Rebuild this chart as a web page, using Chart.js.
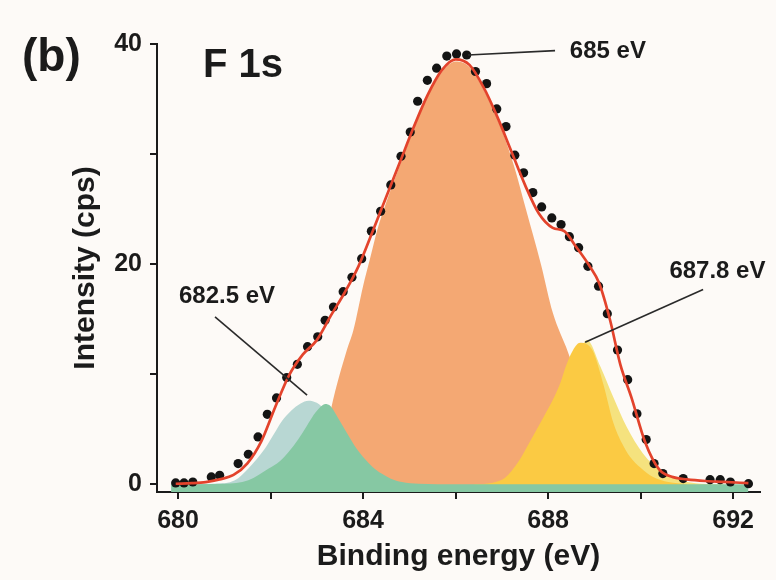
<!DOCTYPE html>
<html>
<head>
<meta charset="utf-8">
<title>F 1s XPS spectrum</title>
<script src="https://cdn.jsdelivr.net/npm/chart.js@4.4.1/dist/chart.umd.min.js"></script>
<style>
  html, body { margin: 0; padding: 0; background: #fdfaf7; }
  #wrap { width: 776px; height: 580px; }
  canvas { display: block; }
</style>
</head>
<body>
<div id="wrap"><canvas id="xps" width="776" height="580"></canvas></div>
<script>
// Measured F 1s spectrum (binding energy in eV, intensity in cps)
const dotEnergy = [679.95, 680.13, 680.32, 680.72, 680.90, 681.30, 681.52, 681.73, 681.93, 682.13,
  682.35, 682.58, 682.80, 683.02, 683.18, 683.36, 683.57, 683.76, 683.97, 684.18,
  684.38, 684.60, 684.82, 685.02, 685.18, 685.39, 685.59, 685.81, 686.02, 686.24,
  686.43, 686.67, 686.89, 687.09, 687.28, 687.47, 687.67, 687.86, 688.08, 688.28,
  688.46, 688.66, 688.86, 689.09, 689.28, 689.50, 689.72, 689.92, 690.12, 690.29,
  690.48, 690.92, 691.50, 691.72, 691.94, 692.33];
const dotCounts = [0.12, 0.12, 0.21, 0.67, 0.82, 1.88, 2.73, 4.3, 6.36, 7.85,
  9.7, 10.9, 12.5, 13.4, 14.9, 16.1, 17.5, 18.8, 20.5, 23.0,
  24.8, 27.2, 29.8, 32.0, 34.8, 36.7, 37.8, 38.9, 39.1, 39.0,
  37.5, 36.4, 34.1, 32.5, 29.9, 28.3, 26.5, 25.2, 24.2, 23.6,
  22.5, 21.5, 19.8, 18.0, 15.5, 12.2, 9.5, 6.4, 4.06, 1.88,
  0.97, 0.52, 0.42, 0.42, 0.21, 0.06];

// Envelope of the peak fit
const fitEnergy = [679.95, 680.3, 680.6, 680.9, 681.2, 681.5, 681.8, 682.1, 682.4, 682.7,
  683.0, 683.3, 683.6, 683.9, 684.2, 684.5, 684.8, 685.1, 685.4, 685.7,
  686.0, 686.3, 686.6, 686.9, 687.2, 687.5, 687.8, 688.1, 688.35, 688.6,
  688.9, 689.1, 689.34, 689.56, 689.8, 690.1, 690.4, 690.7, 691.0, 691.4,
  691.8, 692.33];
const fitCounts = [0.05, 0.1, 0.2, 0.45, 0.85, 1.9, 3.9, 7.0, 9.9, 11.8,
  13.1, 15.3, 17.4, 19.8, 22.9, 26.1, 29.3, 32.5, 35.4, 37.6,
  38.6, 38.1, 36.1, 33.4, 30.3, 27.2, 24.6, 23.3, 23.0, 21.6,
  19.8, 18.3, 14.9, 10.9, 7.9, 3.8, 1.35, 0.65, 0.45, 0.3,
  0.22, 0.1];

// Fitted components
const mainEnergy = [681.6, 682.3, 682.7, 683.0, 683.2, 683.4, 683.65, 683.79, 684.0, 684.15,
  684.3, 684.5, 684.8, 685.1, 685.4, 685.7, 686.0, 686.3, 686.6, 686.9,
  687.1, 687.3, 687.5, 687.85, 688.1, 688.43, 688.8, 689.2, 689.6, 690.0,
  690.5, 691.0];
const mainCounts = [0, 0.5, 1.4, 3.0, 5.0, 8.5, 12.2, 14.0, 18.0, 20.5,
  23.0, 25.6, 29.0, 32.3, 35.2, 37.4, 38.4, 37.9, 35.9, 33.2,
  31.0, 28.4, 25.3, 19.9, 15.6, 12.0, 7.5, 4.0, 1.8, 0.6,
  0.1, 0];

const lowEnergy = [679.85, 681.0, 681.52, 681.96, 682.2, 682.39, 682.6, 682.75, 682.9, 683.05,
  683.18, 683.3, 683.45, 683.68, 683.85, 684.04, 684.2, 684.4, 684.6, 684.84,
  685.2, 686.0, 692.33];
const lowCounts = [0, 0.05, 0.36, 1.43, 2.1, 2.94, 4.1, 5.06, 6.1, 6.9,
  7.3, 7.1, 6.1, 4.45, 3.3, 2.3, 1.6, 0.97, 0.5, 0.2,
  0.05, 0, 0];
const lowShadeEnergy = [679.9, 680.8, 681.23, 681.52, 681.88, 682.05, 682.24, 682.45, 682.65, 682.82,
  683.0, 683.2, 683.5, 683.8, 684.2, 684.6, 685.0];
const lowShadeCounts = [0, 0.05, 0.36, 1.43, 3.25, 4.4, 5.7, 6.7, 7.35, 7.6,
  7.4, 6.6, 4.5, 2.5, 0.9, 0.2, 0];

const highEnergy = [686.4, 686.8, 687.07, 687.35, 687.63, 687.9, 688.1, 688.26, 688.4, 688.54,
  688.69, 688.85, 688.98, 689.2, 689.41, 689.6, 689.77, 690.0, 690.27, 690.6,
  691.0];
const highCounts = [0, 0.15, 0.6, 2.0, 4.05, 6.1, 7.65, 9.15, 10.9, 12.2,
  12.85, 12.7, 12.0, 9.0, 5.6, 3.7, 2.5, 1.5, 0.66, 0.2,
  0];
const highShadeEnergy = [686.8, 687.4, 687.9, 688.3, 688.6, 688.84, 689.13, 689.41, 689.70, 690.05,
  690.42, 690.86, 691.3, 691.8];
const highShadeCounts = [0, 0.5, 3.0, 7.0, 11.0, 13.1, 10.7, 7.9, 5.2, 2.8,
  1.27, 0.36, 0.05, 0];

// Axis ticks
const xTickValues = [680, 682, 684, 686, 688, 690, 692];
const xTickLabels = [680, 684, 688, 692];
const yTickValues = [0, 10, 20, 30, 40];
const yTickLabels = [0, 20, 40];

const FONT = "'Liberation Sans', Arial, Helvetica, sans-serif";
const INK = '#1b1b1b';

const toPoints = (xs, ys) => xs.map((x, i) => ({ x: x, y: ys[i] }));

function band(label, xs, ys, color, order) {
  return {
    label: label,
    data: toPoints(xs, ys),
    order: order,
    showLine: true,
    pointRadius: 0,
    borderWidth: 0,
    borderColor: color,
    backgroundColor: color,
    fill: 'start',
    cubicInterpolationMode: 'monotone'
  };
}

// Peak labels with their leader lines, in data coordinates
const peakNotes = [
  { text: '685 eV',   at: [688.47, 39.3], align: 'left',   from: [686.27, 39.0], to: [688.15, 39.4] },
  { text: '682.5 eV', at: [681.06, 17.1], align: 'center', from: [680.80, 15.2], to: [682.79, 8.1] },
  { text: '687.8 eV', at: [691.66, 19.3], align: 'center', from: [691.35, 17.7], to: [688.80, 12.9] }
];

const annotations = {
  id: 'annotations',
  afterDatasetsDraw(chart) {
    const { ctx, scales } = chart;
    const px = v => scales.x.getPixelForValue(v);
    const py = v => scales.y.getPixelForValue(v);
    ctx.save();
    ctx.strokeStyle = '#2a2a2a';
    ctx.lineWidth = 1.6;
    ctx.fillStyle = INK;
    ctx.textBaseline = 'middle';
    ctx.font = 'bold 24px ' + FONT;
    peakNotes.forEach(n => {
      ctx.beginPath();
      ctx.moveTo(px(n.from[0]), py(n.from[1]));
      ctx.lineTo(px(n.to[0]), py(n.to[1]));
      ctx.stroke();
      ctx.textAlign = n.align;
      ctx.fillText(n.text, px(n.at[0]), py(n.at[1]));
    });
    ctx.textAlign = 'left';
    ctx.font = 'bold 40px ' + FONT;
    ctx.fillText('F 1s', chart.chartArea.left + 46, chart.chartArea.top + 22);
    ctx.font = 'bold 46px ' + FONT;
    ctx.fillText('(b)', 22, chart.chartArea.top + 14);
    ctx.restore();
  }
};

const axisTick = { family: FONT, size: 25, weight: 'bold' };
const axisTitle = { family: FONT, size: 30, weight: 'bold' };

new Chart(document.getElementById('xps'), {
  type: 'scatter',
  data: {
    datasets: [
      {
        label: 'Fit',
        data: toPoints(fitEnergy, fitCounts),
        order: 0,
        showLine: true,
        pointRadius: 0,
        borderColor: '#e3432c',
        borderWidth: 2.7,
        fill: false,
        cubicInterpolationMode: 'monotone'
      },
      {
        label: 'Measured',
        data: toPoints(dotEnergy, dotCounts),
        order: 1,
        showLine: false,
        pointRadius: 4.6,
        pointBackgroundColor: '#141414',
        pointBorderWidth: 0
      },
      band('682.5 eV', lowEnergy, lowCounts, '#86c8a3', 2),
      band('682.5 eV shade', lowShadeEnergy, lowShadeCounts, '#b8d7d3', 3),
      band('687.8 eV', highEnergy, highCounts, '#fbca43', 4),
      band('687.8 eV shade', highShadeEnergy, highShadeCounts, '#f5e27e', 5),
      band('685 eV', mainEnergy, mainCounts, '#f4a873', 6)
    ]
  },
  options: {
    responsive: false,
    animation: false,
    devicePixelRatio: 1,
    layout: { padding: { top: 44, right: 16, bottom: 0, left: 0 } },
    plugins: { legend: { display: false }, tooltip: { enabled: false } },
    scales: {
      x: {
        type: 'linear',
        min: 679.546,
        max: 692.58,
        afterBuildTicks: s => { s.ticks = xTickValues.map(v => ({ value: v })); },
        afterFit: s => { s.height = 88; },
        ticks: {
          autoSkip: false,
          maxRotation: 0,
          padding: 7,
          color: INK,
          font: axisTick,
          callback: v => (xTickLabels.includes(v) ? String(v) : '')
        },
        grid: { drawOnChartArea: false, drawTicks: true, tickLength: 7, color: INK, lineWidth: 2 },
        border: { display: true, color: INK, width: 2 },
        title: { display: true, text: 'Binding energy (eV)', color: INK, font: axisTitle, padding: { top: 0, bottom: 5 } }
      },
      y: {
        type: 'linear',
        min: -0.7,
        max: 40,
        afterBuildTicks: s => { s.ticks = yTickValues.map(v => ({ value: v })); },
        afterFit: s => { s.width = 157; },
        ticks: {
          padding: 8,
          color: INK,
          font: axisTick,
          callback: v => (yTickLabels.includes(v) ? String(v) : '')
        },
        grid: { drawOnChartArea: false, drawTicks: true, tickLength: 7, color: INK, lineWidth: 2 },
        border: { display: true, color: INK, width: 2 },
        title: { display: true, text: 'Intensity (cps)', color: INK, font: axisTitle, padding: { top: 68, bottom: 0 } }
      }
    }
  },
  plugins: [annotations]
});
</script>
</body>
</html>
